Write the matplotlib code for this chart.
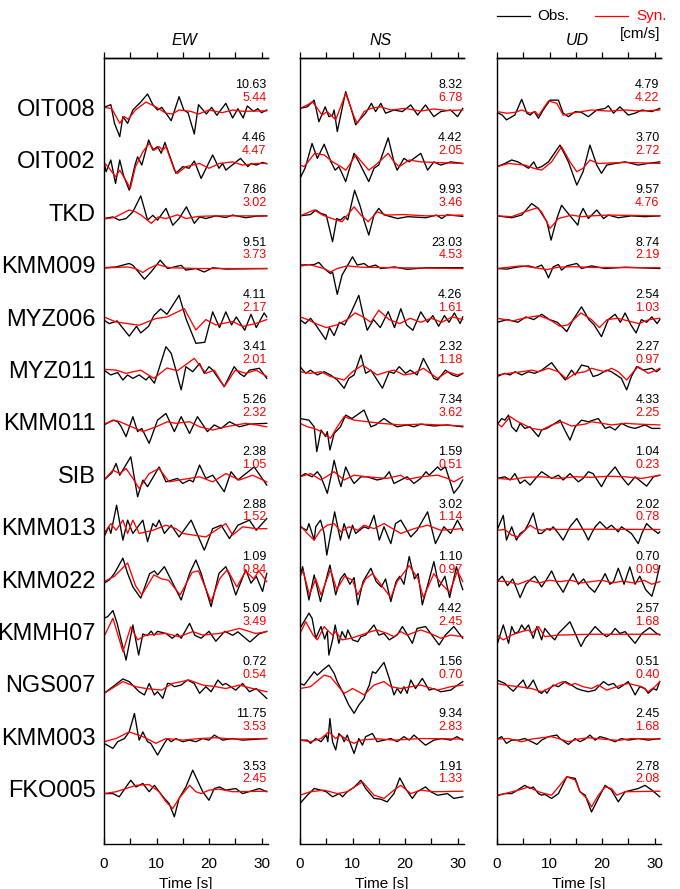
import numpy as np
import matplotlib
matplotlib.use("Agg")
import matplotlib.pyplot as plt
from matplotlib.lines import Line2D

plt.rcParams['font.family'] = ['Liberation Sans', 'DejaVu Sans']

STATIONS = ["OIT008", "OIT002", "TKD", "KMM009", "MYZ006", "MYZ011", "KMM011",
            "SIB", "KMM013", "KMM022", "KMMH07", "NGS007", "KMM003", "FKO005"]
COMPONENTS = ["EW", "NS", "UD"]

# peak amplitudes [cm/s]
EW_OBS_MAX = ["10.63", "4.46", "7.86", "9.51", "4.11", "3.41", "5.26", "2.38", "2.88", "1.09", "5.09", "0.72", "11.75", "3.53"]
EW_SYN_MAX = ["5.44", "4.47", "3.02", "3.73", "2.17", "2.01", "2.32", "1.05", "1.52", "0.84", "3.49", "0.54", "3.53", "2.45"]
NS_OBS_MAX = ["8.32", "4.42", "9.93", "23.03", "4.26", "2.32", "7.34", "1.59", "3.02", "1.10", "4.42", "1.56", "9.34", "1.91"]
NS_SYN_MAX = ["6.78", "2.05", "3.46", "4.53", "1.61", "1.18", "3.62", "0.51", "1.14", "0.97", "2.45", "0.70", "2.83", "1.33"]
UD_OBS_MAX = ["4.79", "3.70", "9.57", "8.74", "2.54", "2.27", "4.33", "1.04", "2.02", "0.70", "2.57", "0.51", "2.45", "2.78"]
UD_SYN_MAX = ["4.22", "2.72", "4.76", "2.19", "1.03", "0.97", "2.25", "0.23", "0.78", "0.09", "1.68", "0.40", "1.68", "2.08"]

# waveforms: (time [s], normalised amplitude x10 of station max)
EW_OBS = [
 [(0,1),(1.3,2),(2,-5),(3,-10),(3.6,-2.5),(4.5,-5),(5.5,0),(7,3),(8.3,6),(9.3,2),(10.2,0),(11,1),(12.8,-4),(14.3,5),(15.2,0),(16,-1),(17.2,-9),(18,2),(19.5,-1.5),(20.5,1),(21.5,-2),(23.2,2.5),(24.5,-3),(25.5,0.5),(26.5,-3),(27.3,1.5),(28.5,-0.5),(29.3,0.5),(30,-1),(31,0)],
 [(0,0.2),(0.4,-3.5),(1.3,0.9),(2.2,-7.9),(3,0.9),(3.7,-4.8),(4.8,-10.4),(5.9,-1),(6.4,2.1),(7.2,-1),(8.5,8.4),(9.3,4.6),(10.2,5.9),(10.9,3.4),(11.6,7.5),(13.7,-4.1),(15,-1.6),(16.2,-2.2),(17.2,0.5),(18.5,-6),(20.7,2.8),(21.9,-2.2),(22.6,-0.4),(23.2,-2.9),(26,1.5),(27.4,-1.6),(28,-0.4),(29,-1),(30.2,0),(31,-0.5)],
 [(0,-1.4),(1.7,-0.8),(2.9,-2),(4.2,-1.4),(5.5,1.1),(7,7.1),(8.3,-2),(9.3,-0.2),(10.2,-2),(11.8,2.4),(13.1,-3.9),(14.3,-1.4),(15.7,3),(17.2,-3.2),(18.2,-0.8),(19.4,-1.4),(21.3,-0.4),(23.2,-1),(24.5,-0.1),(27,-1.1),(29,-0.5),(31,-0.4)],
 [(0,-0.2),(2.3,0.1),(4.8,1.4),(5.5,0.7),(7.7,-4.5),(9,-1.7),(10.7,2.6),(12.1,-0.5),(13.4,0.1),(14.7,0.7),(15.6,-1.1),(17.5,-0.5),(19.1,-1.8),(20.7,-0.2),(23.2,-0.7),(31,-0.5)],
 [(0,-0.2),(1,-1.5),(2.5,-0.5),(4.8,-6.2),(6.2,-2.5),(7,-5),(8.5,-2.5),(9.5,1.5),(10.8,4),(12,2),(14.3,9.1),(15.6,0.4),(17.5,-8.9),(19.2,-8.5),(20.7,2.9),(22,-3),(23.2,2.9),(24.3,-2),(25.2,1),(26.8,-4),(28,2),(29,-3),(30.5,2.5),(31,1)],
 [(0,0.7),(1.3,-1.1),(2.6,-0.2),(3.6,-3),(4.5,-1.1),(5.5,-2.4),(6.7,-1.1),(8,-3),(8.6,-1.7),(9.6,-4.2),(11.8,9.5),(12.8,7),(13.7,0.7),(14.7,-6.7),(15.6,2),(16.9,0.1),(18.2,3.2),(19.1,-0.5),(20,2),(20.7,0.7),(22.9,-5.5),(24.8,2),(25.8,-0.5),(26.7,-1.7),(27.7,0.7),(29.6,1.4),(31,-2.4)],
 [(0,-0.2),(1.7,1.6),(2.6,1),(3.2,-0.6),(4.2,-4.6),(5.5,2.9),(6.4,-2.7),(7.2,-1.5),(8.6,-7.1),(10.2,1.6),(11.8,4.1),(13.4,-2.7),(14.7,2.9),(16.3,-3.4),(17.8,2.9),(19.7,-2.7),(21,-0.2),(22.3,-1.5),(23.9,1),(25.8,-0.9),(27.7,0.1),(31,0.4)],
 [(0,-1.2),(1.5,1.5),(2.3,5),(3,0.6),(5.1,7.5),(6.4,-7.5),(7.4,-1.2),(8.3,-3.7),(10.5,3.7),(11.8,-1.9),(13,-1.2),(14,-0.6),(15,-2.5),(16.3,-1.2),(17,-1.9),(18.2,4.4),(19.4,-0.6),(20.7,0.6),(22.9,-5.6),(24.2,1.9),(25.5,-1.2),(28.6,3.7),(31,-3.1)],
 [(0,-2.9),(0.9,0.9),(1.3,-1.6),(2.4,9),(3.6,-4.1),(4.5,3.4),(5.5,-1.6),(7.4,3.4),(8.3,-4.7),(9.3,2.1),(9.9,0.9),(10.5,3.4),(11.5,-1.6),(12.8,1.5),(14.3,-2.9),(16.6,3.4),(19.1,-7.9),(20.7,0.2),(22.3,1.5),(23.9,-3.5),(25.5,1.5),(27.7,3.4),(29,-0.4),(31,4)],
 [(0,-0.6),(1,0.6),(2,3.1),(3.6,8.8),(4.5,3.1),(5.5,-2),(7,-6.2),(8.7,3),(9.6,4),(10.2,2.5),(11.5,5.6),(12.8,0.6),(14.7,-6.9),(16.3,3.1),(17.5,8.1),(18.5,3.1),(20.4,-9.4),(21.9,3.1),(23.2,5.6),(24,1.9),(25.1,-5),(27,4.4),(28,-0.6),(29,2),(30.2,-3.7),(31,3.1)],
 [(0,5.9),(0.7,6.5),(1.7,8.8),(2.5,4),(4.2,-9.8),(5.5,3.4),(6.6,-7.9),(7.4,0),(8.2,-0.6),(9,1.1),(9.5,-0.5),(10.2,1),(11.8,0.2),(13,-1.6),(14,0),(14.7,-1.6),(16.3,4),(17.3,-0.5),(18.5,-1.6),(20,1),(21.3,-2.7),(23,1),(24.5,-0.5),(25.5,0.8),(27.8,-3),(29.5,0),(31,1)],
 [(0,-2.6),(1.7,-0.1),(3.6,2.8),(4.8,1.8),(6.7,-2),(7.7,-3.2),(8.6,1.1),(9.6,-3.2),(10.2,-2),(11.2,-4.5),(12.1,1.1),(12.5,1.1),(13.4,-0.1),(14.7,0.5),(15.9,2.4),(17.2,1.1),(18.2,-2.6),(19.4,-0.1),(20.4,-2),(21.7,2.4),(22.6,0.5),(23.2,1.1),(25.1,-1.4),(26.4,1.1),(27.7,-2),(29,-0.8),(31,-4.5)],
 [(0,-1.7),(1.7,-3.6),(2.6,-1.1),(3.9,0.1),(4.8,2.6),(5.8,9.5),(6.4,2.6),(6.7,-0.5),(7.4,2.6),(8.3,-1.1),(8.9,-1.7),(10.2,-6.1),(11.5,-1.7),(12.1,0.1),(12.8,-1.1),(13.7,0.1),(15,-1.1),(16.3,-0.5),(17.5,-1.1),(18.8,0.1),(20,-0.5),(21,1.4),(22.6,-0.5),(24.5,0.1),(26.4,-0.5),(31,0.1)],
 [(0,-0.9),(1.7,-0.9),(2.9,-2.1),(4.2,1.6),(5.1,4.1),(6.1,1.6),(7.4,2.9),(8.6,-0.2),(9.6,2.2),(10.5,-0.2),(11.5,-2.7),(12.4,-4.6),(13.4,-9.6),(14.3,-2.7),(15.6,1.6),(16.9,7.9),(18.8,-0.2),(20,-3.4),(21,1),(22,1.6),(23.2,0.4),(25.1,1),(26.4,-0.9),(29.6,1),(31,-0.2)],
]
EW_SYN = [
 [(0,1),(1.5,0.5),(3,-5),(3.9,-2.5),(4.6,-3.5),(6,0),(8,3),(10,1),(11.8,-1.2),(13,-1.5),(14.3,0),(16.5,-0.5),(18,-1.5),(20,0),(22.5,-1),(24.5,0),(26.5,-0.5),(31,-0.3)],
 [(0,0),(1,-2.2),(2.2,-5.4),(3,-2.9),(4.5,-7.9),(5,-9.8),(6,-1.6),(7.4,4),(8.6,7.1),(9.6,4.6),(10.5,5.9),(11.2,4.6),(11.8,5.9),(13.4,-2.9),(14,-4.1),(15.6,-1.6),(18.2,-0.4),(20,-2.2),(22,-0.4),(24.5,0.2),(26.4,-1),(29,-0.4),(31,-0.4)],
 [(0,-1.6),(2,-1),(4.8,1.8),(6,1.1),(7,0),(9,-3.2),(10.3,-0.8),(11.8,-1.4),(14,0),(15.6,-1.4),(18,-0.6),(21,-0.4),(31,-0.4)],
 [(0,-0.3),(4.5,0.1),(6,-0.5),(7.4,-2),(8.5,-0.5),(10.2,1),(12.5,-0.2),(18,-0.5),(31,-0.5)],
 [(0,1),(2.3,-0.9),(6.7,-2.1),(9.9,0.4),(12,1),(15.3,4.1),(17.5,-3.9),(19.4,0),(21.3,-2),(24.5,-0.7),(26.4,-2.6),(29,-1.4),(31,0)],
 [(0,1),(2.3,0.7),(4.2,-0.5),(7,0.7),(9.5,-2.4),(12,1.5),(14,0.5),(17.2,5.1),(19.4,-0.5),(21,0.7),(22.9,-5.5),(25,0.7),(27,-0.5),(29,0.7),(31,-1.7)],
 [(0,0.1),(2,1.6),(3,1),(7.4,-2.7),(9.9,-0.9),(12.1,1),(13.7,0.4),(16.3,1),(18.2,-0.9),(20.7,-2.1),(23.2,-0.9),(25.2,-0.2),(27,0.4),(29,-0.2),(31,-0.9)],
 [(0,-1.2),(1.7,2.5),(3,1.2),(4.2,3.1),(5.5,-0.6),(6.7,-4.4),(8.6,1.2),(10.5,3.1),(12.4,-1.9),(15,-1),(18.2,0),(20.7,-1.9),(23.2,1.2),(25.8,-1.2),(28.3,0.6),(31,-1.9)],
 [(0,-1.6),(1.3,2.1),(2.3,-0.4),(3.6,3.4),(4.5,-1.6),(5.5,3.4),(6.7,-1.6),(9.3,-0.4),(11.8,1.5),(13.7,0.2),(15,-1.6),(19.4,-2.9),(21.3,-0.4),(23.2,2.1),(24.5,-2.2),(26.4,0.9),(29,0.2),(31,0.2)],
 [(0,0),(2,2),(4.5,7),(6,-1.5),(7.2,-5),(9.5,2.5),(11,1),(12.3,0.5),(14.5,-5),(16.8,3.5),(18,4),(20.4,-7.5),(22,1),(23.5,4.5),(25.3,-2),(27,4),(28.5,1),(29.5,4),(31,0)],
 [(0,-1),(1.7,5.9),(2.6,0),(3.6,-6.6),(5.1,2.7),(6.4,-2.2),(8,-0.4),(11.8,0.2),(14.3,-1),(16.9,0.9),(18.8,-0.4),(22,0.2),(25.8,2.1),(28.9,0.2),(31,0.9)],
 [(0,-2.6),(3.6,1.8),(6,-0.1),(8,-0.8),(11,-1.4),(13,1.1),(16.2,2.4),(18.8,0.5),(21.3,-0.1),(23.2,-0.8),(25.8,0.5),(28.3,-0.8),(31,-2)],
 [(0,-1.1),(2.3,0.1),(4.8,2.6),(7.4,0.8),(9.9,-1.7),(11.8,0.1),(15,-0.5),(18.2,0.1),(21.3,0.4),(24.5,-0.1),(31,0.1)],
 [(0,-0.9),(2.3,-0.2),(4.2,1),(6.1,2.2),(8.6,2.5),(10.5,-0.2),(11.8,-4),(13.1,-6.5),(14.3,-2.7),(16.3,2.2),(17.5,-0.2),(18.5,-0.9),(20,0.4),(21.9,0.8),(24.5,-0.2),(31,0)],
]
NS_OBS = [
 [(0,0.6),(1.4,1.2),(2.7,3.7),(3.6,-4.4),(4.8,1.2),(5.5,-2.5),(6.2,-1.9),(6.5,0),(7.1,-8.1),(7.7,-2.5),(8.7,6.9),(10,-1.2),(10.6,-5.6),(11.6,-3.1),(12.5,-1.2),(13.6,2.5),(14.4,-0.6),(15.4,2.5),(16.3,-1.2),(17.9,0),(19.5,-0.6),(21.1,1.9),(22.4,-1.9),(23.9,1.9),(25.5,-2.5),(26.8,-0.6),(28.7,0),(30,-2.5),(31,0.6)],
 [(0,-6),(1,-2),(2.3,7.1),(3.3,1.5),(4.6,6.8),(5.9,0.2),(6.7,-2.9),(7.4,-1.6),(8,-4.1),(8.7,-7.2),(10.3,3.4),(11.2,0.2),(13.1,-7.2),(14.1,-2.2),(15,-1),(16.8,9.2),(17.9,0.2),(18.5,-2.9),(19.8,1.5),(20.8,0.2),(23,3.4),(24.3,-2.9),(25.5,0.2),(26.8,-1),(28.7,0.2),(31,-0.4)],
 [(0,-0.4),(2,0.1),(3,1.8),(4,0.5),(5,-0.1),(6.2,-10.1),(7,-1.4),(7.7,-2),(8.5,-0.6),(9.1,-1.9),(10.4,9.2),(11.5,3),(12.2,-2.2),(13.1,-7.6),(14.1,-0.1),(15,2.4),(16,0),(17.3,-0.7),(18.6,-1.4),(20.5,-0.7),(24,-1.1),(26,-0.1),(27,-1.4),(28,0),(31,-0.6)],
 [(0,0.8),(2.7,1),(3.6,1.8),(4.6,-0.5),(5.8,-2.4),(6.2,-1.8),(7.1,-10.2),(8,-3),(10,3.9),(10.9,0.8),(12.2,1.4),(13.1,0.1),(14.4,0.8),(15.4,-0.5),(18,0.1),(20.4,-0.8),(24,-0.2),(31,-0.2)],
 [(0,0),(1,-1.5),(2,0.5),(3,-2),(4.9,-7.5),(5.6,-3),(6.5,-6),(7.5,-1),(8.5,-2),(9.8,3),(11.2,9.1),(12,2),(12.8,-4),(14,0),(15.3,-3),(16.8,3),(18,-3),(19.2,4.1),(20.3,-2),(21.5,-4),(23,2.9),(24.3,-1),(25.3,1.5),(26.4,-2.5),(27.5,1.5),(28.4,-1),(29.4,2.5),(30.5,-1.5),(31,1)],
 [(0,2),(1.1,-0.5),(2,0.7),(3.3,-1.1),(4.6,0.1),(5.8,-1.1),(7.1,-3),(8.4,-6.1),(9.3,-2.4),(10.3,-1.1),(11.6,6.4),(12.5,-0.5),(13.5,0.7),(15.7,-6.1),(17,0.1),(17.9,-0.5),(18.9,2),(20.1,-0.5),(21,0.7),(22.3,-1.1),(23.5,5.1),(25.5,-2.4),(26.2,-3),(27.7,0.7),(29,-1.1),(30,-1.7),(31,-0.5)],
 [(0,2.2),(1.7,1.6),(2.7,-0.9),(3.2,-10.2),(4,-2.1),(4.9,-4.6),(5.2,-2.7),(5.7,-9.6),(6.5,-3.4),(7.7,-0.9),(8.7,3.5),(9.9,2.2),(12.2,5.4),(13.5,-0.9),(14.4,-0.2),(16,2.2),(17.3,0.4),(18.5,-0.9),(20.4,-0.2),(21.7,-0.9),(23,0.1),(25.5,-0.6),(28.1,-0.2),(31,-0.9)],
 [(0,0),(1,1.2),(2.3,0),(3.3,1.9),(4,0),(5.2,-6.2),(5.9,0),(6.5,6.2),(7.4,-1.2),(7.8,-3.7),(8.7,3.7),(9.7,-0.6),(10.3,-2.5),(11.6,0),(12.8,0),(14.7,-1.2),(16,-0.6),(17,1.9),(17.9,-2.5),(19.2,-1.2),(20.4,0),(21.7,-2.5),(23,-0.6),(24,1.9),(24.6,0.6),(26.2,3.7),(26.8,2.5),(27.7,3.7),(29.3,-6.2),(30.3,-3.7),(31,-1.2)],
 [(0,0.9),(1.3,-0.4),(1.7,2.1),(2.7,-4.1),(3,0.9),(3.9,3.4),(4.6,-1.6),(5.1,-9.7),(6.6,6.5),(7.7,-4.1),(8.4,2.1),(9.3,-3.5),(10,1.5),(10.6,-1.6),(12.2,0.9),(13.1,0.2),(14.1,5.2),(15.1,-4.1),(16,0.9),(17.3,-5.4),(18.2,2.1),(19.2,3.4),(21.1,-2.9),(22.3,-0.4),(24.3,6.5),(25.8,-5.4),(27.4,0.9),(28.7,-1.6),(30,3.4),(31,-0.4)],
 [(0,1.6),(0.5,5.6),(1.7,-6.9),(2.7,2.5),(3.9,-7.5),(5.7,6.2),(6.8,-5),(7.7,1),(8.5,3),(9.5,-1),(10.3,1.5),(11,-8.7),(12,0),(13.5,5),(14.5,0),(15.5,-2),(16.3,1),(17.3,-7.5),(18.3,0),(19,2),(19.8,-1),(20.8,9.4),(21.8,1),(22.5,3),(23.3,-8.7),(24.5,0),(25.5,7.5),(26.5,-2),(27.6,2),(28.5,-6),(29.8,5.6),(30.5,0),(31,-3)],
 [(0,2.1),(1.7,7.8),(2.3,5.9),(3,-1.6),(4,2.8),(4.7,-1.9),(5.2,1),(5.5,-7.9),(6.2,-2.2),(6.7,3.4),(7.4,-3.5),(8,0.9),(8.7,-1.6),(9.1,1.5),(10,-2.2),(11,-2.9),(11.6,-1),(12.5,-0.4),(14.1,3.4),(15,-0.4),(16,0.2),(17,-2.2),(18.5,-0.4),(19.5,2.8),(20.5,-0.4),(21.4,-3.5),(22.3,2.1),(23.9,2.8),(24.9,0.2),(26.5,-4.1),(27.7,-0.4),(29.3,2.8),(31,-1.6)],
 [(0,1.1),(0.8,0.5),(2.7,5.5),(3.3,4.2),(4.3,6.1),(5.5,8),(6.5,4.9),(7.1,1.8),(8.4,-3.2),(9.3,-7),(10.3,-10.1),(11.2,-7),(12.2,-4.5),(12.5,-2.6),(13.2,0.5),(13.8,5.5),(14.4,4.9),(16,9),(17,3),(17.9,-3.2),(18.5,-0.8),(19.2,-2.6),(19.8,-0.1),(20.4,-2.6),(21.1,2.4),(22,-0.8),(23.3,3),(24.6,-1.4),(25.5,-0.8),(26.8,-2),(28.7,-1.4),(30,0.5),(31,1.8)],
 [(0,-0.5),(1.4,-0.5),(2,-1.7),(3,0.1),(4,-1.1),(5,1.4),(5.3,-1.1),(5.7,7.6),(6.2,-1.1),(6.8,-4.2),(7.4,2),(8,0.8),(8.4,-1.1),(9,1.4),(9.7,-2.4),(10.3,-5.5),(11.2,0.1),(11.9,-2.4),(12.5,0.8),(13.8,2),(14.7,-1.1),(16,-0.5),(17.3,0.1),(18.5,-1.1),(19.8,0.8),(20.8,-0.5),(21.7,1.4),(23.9,-2.4),(25.5,-0.5),(27.1,0.1),(28.7,-0.5),(29.9,0.8),(31,-0.5)],
 [(0,-4.6),(1.4,-1.5),(2.7,1),(4,0.4),(5,-0.2),(6.2,-2.1),(7.5,-0.9),(8.1,-2.1),(9,-0.2),(10.3,1.5),(11.6,4.1),(12.5,1),(14.1,-2.7),(15.4,-3),(16.6,-4),(17.9,-0.9),(19,5),(20.1,1),(21.4,-2.7),(22.3,-0.2),(23.9,1.6),(24.9,-0.2),(26.2,-1.5),(28.1,-0.9),(29.3,-2.7),(31,-2.1)],
]
NS_SYN = [
 [(0,0.6),(1.4,1.9),(2.4,3.1),(4.2,-1.9),(5.2,-0.6),(6.8,-3.7),(8.7,6.2),(10.3,-2.5),(10.9,-5),(12.2,-0.6),(13.5,0.6),(15.4,1.2),(17.3,0),(20,0.6),(23,-0.4),(25.5,0.4),(28,-0.2),(31,0)],
 [(0,-1),(0.8,-1.6),(2.8,3.4),(4.6,2.8),(6.2,0.2),(7.8,-1.6),(8.7,-2.9),(9.4,-1),(10.6,2.8),(13.1,-2.9),(14.4,-1),(16.8,3.4),(17.9,0.2),(18.9,-1.6),(20.8,0.9),(23,0.2),(25.5,0),(31,-0.4)],
 [(0,-0.4),(2.7,1.8),(4.3,-0.1),(5.5,-1),(8,-2.6),(8.5,-1.4),(10.3,3),(11.6,-0.1),(13,-2.6),(14.7,1.1),(16.5,-0.1),(19.7,0.1),(24,-0.4),(31,-0.1)],
 [(0,0.4),(1.7,1),(4.6,-0.5),(5.8,-1.8),(7.1,-0.5),(9,0.5),(11.6,0),(18,-0.2),(31,-0.5)],
 [(0,1),(1.5,0),(3,-1.5),(5,-3),(7,-2),(9,0),(10.5,2.5),(12,1),(13.5,-1),(15,3.5),(17,0),(19,-1.5),(21,0.5),(23,-1),(25,0.5),(27,-1),(29,1),(31,0)],
 [(0,0.1),(2,-0.5),(4,0.1),(5.8,-1.7),(8.4,-3),(10,0.1),(11.9,2.6),(13.8,0.1),(14.7,-1.1),(16.6,0.1),(17.9,0.7),(19.8,-1.1),(21.7,-0.5),(23.5,1.4),(26.2,-2.4),(28.1,0.1),(30,-1.1),(31,-0.5)],
 [(0,0.4),(1.4,-0.9),(2.7,-1.5),(4,-2.7),(5.8,-5.2),(7.1,-0.9),(8.4,2.9),(10.3,1.6),(12.9,1),(15.4,0.4),(19.2,-0.2),(23,0.1),(31,-0.6)],
 [(0,0),(2,1.2),(4,-1.2),(6.5,1.9),(8.4,-1.2),(10.3,0.6),(12.8,0),(16.6,-0.6),(19.2,0.6),(20.4,-1),(23,0),(26.2,0.6),(28.1,-0.6),(29.3,-1.9),(31,0)],
 [(0,1.5),(1.4,-1.6),(2.7,-4.1),(3.9,-0.4),(5.2,1.5),(6.5,2.1),(7.8,-1),(9.3,0.9),(11,-0.4),(12.2,1.5),(14.1,0.2),(16,2.1),(19.2,-1.6),(21.7,0.2),(24.3,1.5),(26.8,-0.4),(31,0.2)],
 [(0,2),(0.6,4),(1.8,-5),(3,1),(4,-5),(5.8,4.5),(7,-3),(8.5,2),(10,0.5),(11,-5),(12.5,1),(13.8,3),(15,0),(17.3,-6),(18.5,0),(20.8,6),(22.5,1),(23.5,-6),(25.5,3),(27,-1),(28.5,-4),(30,4),(31,0)],
 [(0,0.2),(1.1,4.6),(2.5,-0.4),(3.3,-2.2),(4.6,2.8),(5.2,1.5),(6.2,-0.4),(6.8,0.9),(8,-2.2),(9.7,-1.6),(11.6,-0.4),(13.5,0.9),(14.7,1.5),(16.6,0.2),(17.9,-1),(19.2,0.9),(20.4,-0.4),(23,1.5),(24.9,0.2),(26.8,-1.6),(28.7,-0.4),(31,-1)],
 [(0,-0.8),(2,-0.1),(4.6,4.2),(5.8,3.6),(7.1,0.5),(8.4,-2.6),(9,-2),(10,-0.8),(11.2,-2),(12.2,-3.2),(14.1,0.5),(16,1.8),(17.3,-0.1),(19.2,-0.8),(23,0.5),(26.2,-1.4),(28.7,-0.1),(31,0.5)],
 [(0,-0.5),(2,-1.1),(4,0.1),(5.5,2.6),(6.8,0.1),(7.7,1.4),(9,-0.5),(10.3,-1.7),(11.6,-0.5),(14.7,0),(18,-0.5),(23,0.1),(31,-0.1)],
 [(0,-1.5),(2,-0.2),(4.6,0.4),(7.1,-0.9),(9,-0.2),(11.9,3.5),(14.1,-1.5),(16,-2.7),(17.9,0.4),(19.2,2.2),(21.1,-0.9),(23,0.4),(25.5,-0.2),(31,0)],
]
UD_OBS = [
 [(0,-0.9),(1,-1.9),(1.8,-3.7),(3.4,-1.9),(4.7,4),(5.7,-1.2),(6.3,-1.9),(7.1,-0.6),(7.9,-3.1),(8.8,0),(10.1,3.7),(11.7,3.7),(12.6,-1.2),(13.6,-2.5),(14.9,-0.6),(16.1,-0.9),(17.4,-2.5),(19,0),(20.6,0.6),(21.2,1.6),(22.2,-1.2),(23.4,1.2),(25,-1.9),(26.3,-1.2),(27.6,0),(29.5,-0.6),(31,0.6)],
 [(0,-1.6),(1.5,-0.4),(2.8,0.9),(4,0.2),(6,-2.2),(7,0.2),(7.6,-2.2),(8.5,-1.6),(9.8,0.2),(12,6.5),(13.6,0.2),(15.2,-8.5),(16.4,-3.5),(17.7,6.5),(19,-1),(19.9,-4.1),(20.9,-1),(22.5,-0.4),(24.4,0.2),(26.9,-1),(28.7,-0.4),(31,0.2)],
 [(0,-0.4),(2.8,-1.1),(4.7,-0.1),(6.6,4.2),(7.9,2.4),(8.5,0.5),(9.5,-2.6),(10.3,-9.5),(11.4,-1.4),(12.3,3.6),(13.3,1.1),(15.4,-3.9),(15.8,-0.1),(16.4,2.4),(17.4,-1.4),(19,1.8),(20.3,-1.4),(21.2,-0.1),(23.1,-1.1),(25.6,-0.4),(28.2,-0.7),(31,-0.4)],
 [(0,-0.5),(1.9,-0.7),(4,0.1),(6,0.5),(7.3,-0.2),(8.5,0.8),(9.3,-1.7),(9.8,-4),(10.7,0.1),(11.7,1),(12.3,-1.1),(13.3,0.5),(15.2,1.4),(16.1,-0.5),(18,0.5),(20.6,-0.5),(24.4,0),(31,-0.5)],
 [(0,-1),(2,0),(4,-1),(5.5,1),(7,0),(8.5,2),(10,0),(11.5,-1),(13.3,-4.5),(14.5,0),(16.1,4.8),(17.5,0),(18.5,-2),(19.9,-6.4),(21.2,0),(22.5,2),(23.5,-1),(24.4,2.5),(25.5,-2),(26.5,-5),(27.5,0),(28.5,-1),(29.5,1),(30.5,-1.5),(31,0)],
 [(0,-1.7),(1.5,-0.5),(2.5,-1.1),(3.4,0.1),(4.7,-1.1),(6,0.1),(7.2,-0.5),(8.5,0.7),(10.4,3.5),(11.7,0.1),(13,-3),(14.2,0.7),(14.9,-1.1),(16.1,2.6),(17.4,2),(18.3,-1.7),(19.3,-1.1),(20.9,0.7),(21.8,0.1),(23.7,-2.4),(24.7,-6.7),(25.6,-1.7),(26.6,2),(27.9,0.7),(29.5,1.4),(30.4,0.1),(31,1)],
 [(0,-0.2),(0.9,2.2),(1.5,1.6),(2.2,3.5),(2.8,-0.9),(3.7,-2.7),(4.4,0.4),(5.3,-1.5),(6.3,-0.9),(7.9,-4.6),(8.5,-2.1),(9.5,-1.5),(12,1.6),(12.6,-0.9),(13.9,-5.9),(14.9,-0.9),(16.1,1.6),(17.4,1),(19.3,2.2),(20.6,-1.5),(21.5,-0.9),(22.5,-2.1),(23.7,0.4),(25,-0.9),(26.3,-1.5),(28.2,-0.2),(29.5,-1.5),(31,-1.5)],
 [(0,-0.6),(1.5,0),(2.5,-1.2),(3.4,1.2),(4.4,-2.5),(5.3,-1.2),(6.3,-3.1),(7.6,0),(8.5,1.9),(9.5,0.6),(10.4,-0.6),(11.7,0.6),(12.6,-1.2),(13.9,1.2),(15.5,-1.9),(16.4,-0.6),(17.4,1.9),(18.3,1.2),(19.9,-3.7),(20.9,0),(22.5,3.7),(23.7,0),(25,-3.1),(26.3,0),(28.5,-3.5),(29.8,0),(31,0.6)],
 [(0,-0.4),(1.2,5.2),(1.8,-4.1),(2.8,0.9),(3.7,-4.1),(4.4,-1.6),(5.3,-0.4),(6,2.1),(6.9,6.1),(7.9,-1.6),(8.5,-1.6),(9.5,0.2),(10.1,-0.4),(10.7,0.9),(11.7,-1.6),(12.6,-4.1),(13.9,0.9),(15.2,4),(16.8,-1.6),(17.4,-4.1),(18,-1.6),(18.7,0.9),(19.6,2.8),(20.9,0.2),(21.8,1.5),(23.1,-1),(23.7,0.9),(25.6,-1.6),(26.9,-5.4),(27.6,-1.6),(28.5,2.1),(29.5,0.2),(30.7,-1.6),(31,-1)],
 [(0,0),(1,2),(2,-1.5),(3,1),(4.4,-6),(5.5,-1),(6.5,1),(7.2,2),(8.5,-2),(9.5,1),(10.4,4),(11.3,0),(12.6,-4),(13.6,0),(14.5,3),(15.5,-1),(16.5,1),(17.5,-2),(18.6,-4),(19.8,0),(20.6,3),(21.5,-1),(22.2,0),(23.1,5),(24.2,-1),(25.3,5.5),(26.3,-1),(27.2,2),(28.3,-3),(29.5,-5.5),(30.3,0),(31,6)],
 [(0,-4.1),(1.2,3.4),(2.2,-3.5),(2.8,2.8),(3.4,0.2),(4.1,0.9),(4.7,3.4),(5.3,1.5),(6,3.4),(6.9,-1.6),(7.6,2.8),(8.5,-2.2),(9.1,2.1),(10.1,-0.4),(11,-2.2),(11.7,0.2),(13.9,4.6),(16,-4.7),(16.8,-1.6),(17.4,-0.4),(18.7,2.8),(20,0.2),(20.9,-1),(21.8,0.2),(22.5,2.1),(23.4,0.2),(24.4,0.9),(26.3,-3.5),(27.6,0.2),(29.1,2.4),(30.4,0.2),(31,-0.4)],
 [(0,2.4),(1.5,1.1),(2.5,-0.8),(3.1,-1.8),(4.1,0.5),(5,2.4),(5.7,-0.8),(6.3,0.5),(6.9,2.4),(7.9,-2),(8.5,-2.6),(9.1,-1.4),(9.5,-2.6),(10.1,-0.8),(10.7,0.5),(11.7,-0.1),(13,1.8),(14.2,0.5),(15.2,-0.8),(16.1,-1.4),(17.4,-2),(18.7,-1.4),(19.3,-0.1),(20.3,1.8),(21.2,0.5),(22.2,1.1),(23.1,-0.8),(24.1,0.5),(25,1.8),(25.7,-0.8),(26.3,-3.2),(27.2,-0.1),(28.2,-0.8),(28.8,-2.6),(29.8,-0.8),(30.4,-1.4),(31,1.8)],
 [(0,-0.1),(0.9,0.8),(1.8,-1.7),(2.8,-0.5),(4.1,-0.5),(5.3,0.1),(6.6,-1.1),(7.6,-2.1),(8.5,-0.5),(9.8,0.8),(11.4,1.4),(12,0.1),(13.6,-2.1),(14.9,0.1),(15.8,-1.1),(16.8,-0.1),(17.7,1.4),(18.7,-0.5),(19.6,0.8),(20.9,0.1),(22.5,-1.1),(23.7,0.1),(25,-0.5),(26.9,0.1),(28.8,-0.5),(31,0.1)],
 [(0,-1.7),(1.5,-0.9),(2.8,-0.9),(3.4,-0.2),(5.3,2.2),(6.3,1),(6.9,1.6),(7.9,-0.9),(8.5,-1.5),(9.1,-1.2),(10.4,-2.7),(11.7,-0.9),(13.3,5.4),(14.9,4.8),(15.8,-0.2),(16.8,-1.5),(18,-7.8),(19.3,-2.7),(20.6,2.2),(21.8,0.4),(23.1,-4),(24.4,-0.2),(26.9,1),(28.2,2.2),(29.5,0.4),(31,-2.1)],
]
UD_SYN = [
 [(0,-0.6),(1.9,-1.2),(3.4,-0.9),(4.7,0),(6.3,-1.2),(7.3,-0.6),(7.9,-2.1),(9.8,3.4),(11.4,2.5),(12.6,-1.9),(14.2,-1.2),(16.1,-0.6),(18,0),(21.2,-0.4),(24.4,0),(27.6,-0.4),(31,0)],
 [(0,-1.6),(2.2,-0.4),(5.3,-1),(7,-2.2),(8.5,-2.9),(10.4,0.2),(12.3,5.9),(13.9,0.2),(15.2,-3.5),(16.4,-2.2),(17.7,0.9),(19.3,-0.4),(24.4,0),(31,-0.4)],
 [(0,-0.4),(2.8,-0.7),(5.3,1.1),(7.6,2.6),(8.5,1.1),(10.1,-5.1),(11.7,-1.4),(14.2,-0.1),(16.1,-0.7),(18,-0.4),(21.2,-0.1),(31,-0.4)],
 [(0,-0.5),(2.2,0),(4.7,0.5),(7.3,-0.2),(9.5,-0.9),(11.7,0),(14.9,0.2),(18,-0.1),(31,-0.2)],
 [(0,0.5),(3,-0.5),(5,0.5),(8,1.5),(10,0),(12,-2.5),(13.5,-2),(16,2.5),(18,0),(19.5,-3),(21,0),(23,0.5),(25,-0.5),(27,-1.5),(29,0),(31,0.5)],
 [(0,-1.1),(2.2,-0.5),(4.7,0.1),(6.6,0.7),(7.9,0.1),(9.8,1.4),(11.7,0.1),(13.3,-2.7),(14.9,-0.5),(16.8,0.1),(18,1.4),(19.3,0.7),(20.6,0.1),(21.8,1.4),(23.1,0.1),(24.7,-3),(26,0.1),(26.9,2),(28.8,-0.5),(30.4,0.7),(31,1.4)],
 [(0,0.4),(0.9,-0.9),(2.5,2.9),(4,1),(6.6,-1.5),(8.5,-2.1),(10.4,-0.2),(12.3,1),(14.2,-0.6),(16.8,0.1),(18,1),(20,0.4),(21.8,-0.2),(24.4,0.4),(26.9,0.1),(31,-0.2)],
 [(0,-0.6),(2.8,-1),(5.3,-0.2),(8.5,0),(11.7,-0.6),(14.9,0),(18,-0.2),(21.2,0.2),(24.4,0),(27.6,-0.6),(31,0.6)],
 [(0,-0.4),(1.5,-0.1),(2.8,-2.2),(4.1,-2.9),(5.3,-0.4),(6.3,1.5),(7.3,0.2),(8.5,-0.4),(10.1,0.2),(11.7,-0.1),(18,0),(31,-0.1)],
 [(0,0.2),(2,0),(4,-1),(6,0.5),(8,-0.5),(10,0.5),(12,0),(14,0.5),(16,-0.5),(18,0),(20,0.5),(22,-0.5),(24,0.2),(26,-0.5),(28,0.5),(29.5,-1),(31,0)],
 [(0,-0.4),(1.2,-2.2),(2.8,-0.4),(4.7,0.9),(6,1.5),(6.6,0.2),(7.9,2.8),(9.1,-1),(11.7,-0.4),(18,-0.1),(31,-0.1)],
 [(0,1.1),(1.5,0.5),(4.1,-0.1),(6.6,-0.8),(8.5,-2),(9.8,-0.8),(11.7,1.1),(12.6,1.8),(13.9,0.5),(14.9,1.1),(16.4,-0.1),(18,-0.8),(19.3,0.5),(20.9,-1.4),(21.8,-0.8),(23.7,0.5),(25,1.1),(26.3,0.5),(27.6,-0.1),(28.8,-2),(30.1,-0.1),(31,1.8)],
 [(0,-0.1),(2.2,0.1),(4.7,-1.1),(6.6,-0.1),(8.5,0.4),(10.4,0.8),(11.7,0.1),(13.6,-1.1),(15.5,-0.1),(17.4,0.4),(20,-0.1),(23.1,-0.6),(25.6,0.1),(31,-0.1)],
 [(0,-1.5),(1.5,-0.9),(4.1,0.4),(6,1.6),(7.9,-0.2),(9.1,-0.9),(10.4,-1.5),(13.3,5.4),(14.9,4.2),(15.8,-0.2),(17.1,-2.7),(18,-5.9),(19.3,-1.5),(20.6,1.6),(21.8,1),(22.8,-1.5),(24.4,-0.2),(31,0)],
]

OBS = {"EW": EW_OBS, "NS": NS_OBS, "UD": UD_OBS}
SYN = {"EW": EW_SYN, "NS": NS_SYN, "UD": UD_SYN}
OBS_MAX = {"EW": EW_OBS_MAX, "NS": NS_OBS_MAX, "UD": UD_OBS_MAX}
SYN_MAX = {"EW": EW_SYN_MAX, "NS": NS_SYN_MAX, "UD": UD_SYN_MAX}

W, H = 680, 889
fig = plt.figure(figsize=(W / 100, H / 100), dpi=100)

AMP = (8 / 3) / 52.4        # one amplitude unit in station spacings
XMAX = 31.2
lefts_px = [104, 300, 497]
top_px, bot_px = 58, 844
width_px = XMAX * 5.25
ymax = (110 - top_px) / 52.4
ymin = -(bot_px - 110) / 52.4

for ci, comp in enumerate(COMPONENTS):
    ax = fig.add_axes([lefts_px[ci] / W, 1 - bot_px / H, width_px / W, (bot_px - top_px) / H])
    ax.set_xlim(0, XMAX)
    ax.set_ylim(ymin, ymax)
    for k, st in enumerate(STATIONS):
        o = np.array(OBS[comp][k], dtype=float)
        s = np.array(SYN[comp][k], dtype=float)
        ax.plot(o[:, 0], -k + o[:, 1] * AMP, color='black', lw=0.95)
        ax.plot(s[:, 0], -k + s[:, 1] * AMP, color='#ff0000', lw=0.95)
        ax.text(30.95, -k + 0.47, OBS_MAX[comp][k], ha='right', va='center', fontsize=9, color='black')
        ax.text(30.95, -k + 0.225, SYN_MAX[comp][k], ha='right', va='center', fontsize=9, color='#ff0000')
        if ci == 0:
            ax.text(-1.6, -k, st, ha='right', va='center', fontsize=17, clip_on=False)
    ax.spines['right'].set_visible(False)
    for side in ['left', 'bottom', 'top']:
        ax.spines[side].set_linewidth(1.0)
    ax.set_yticks([])
    ax.set_xticks([0, 10, 20, 30])
    ax.set_xticks([5, 15, 25], minor=True)
    ax.tick_params(axis='x', which='both', direction='in', length=4, width=0.9,
                   labelsize=11, pad=9, top=False)
    sec = ax.secondary_xaxis('top')
    sec.set_xticks([0, 5, 10, 15, 20, 25, 30])
    sec.tick_params(direction='out', length=4, width=0.9, labeltop=False)
    sec.spines['top'].set_linewidth(1.0)
    ax.set_xlabel("Time [s]", fontsize=11, labelpad=4.5)
    ax.text(XMAX / 2 - 0.3, ymax + 0.34, comp, ha='center', va='center', fontsize=11.5,
            style='italic', clip_on=False)

# legend
fig.add_artist(Line2D([497 / W, 530 / W], [1 - 16 / H, 1 - 16 / H], color='black', lw=0.9))
fig.text(537 / W, 1 - 16 / H, "Obs.", ha='left', va='center', fontsize=11)
fig.add_artist(Line2D([595 / W, 628 / W], [1 - 16 / H, 1 - 16 / H], color='#ff0000', lw=0.9))
fig.text(636 / W, 1 - 16 / H, "Syn.", ha='left', va='center', fontsize=11, color='#ff0000')
fig.text(620 / W, 1 - 34 / H, "[cm/s]", ha='left', va='center', fontsize=11)

fig.savefig("out.png", dpi=100)
